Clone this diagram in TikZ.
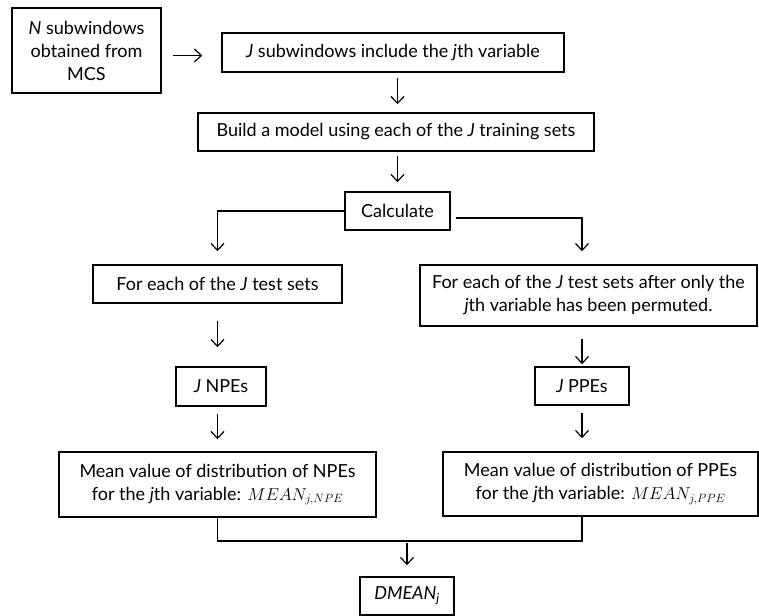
\documentclass[tikz,border=0pt]{standalone}
\usepackage{fontspec}
\setmainfont{Lato}
\usetikzlibrary{arrows.meta}
\tikzset{
  box/.style={draw, line width=1.5pt, inner sep=0pt, align=center},
  arr/.style={line width=1.2pt, -{Straight Barb[length=7pt,width=13pt,line width=1.2pt]}},
  link/.style={line width=1.3pt}
}
\begin{document}
\begin{tikzpicture}[x=1pt, y=-1pt, font=\fontsize{18}{23}\selectfont]
\useasboundingbox (0,0) rectangle (759,615);
% inizio
\node[box, minimum width=149pt, minimum height=85pt] (sub) at (86.5,50.5) {\textit{N} subwindows\\obtained from\\MCS};
\node[box, minimum width=342pt, minimum height=39pt] (incl) at (393,52.5) {\textit{J} subwindows include the \textit{j}th variable};
\node[box, minimum width=396pt, minimum height=38pt] (model) at (396,132) {Build a model using each of the \textit{J} training sets};
\node[box, minimum width=105pt, minimum height=38pt] (calc) at (397.5,211) {Calculate};
% due rami
\node[box, minimum width=249pt, minimum height=38pt] (testN) at (217.5,284) {For each of the \textit{J} test sets};
\node[box, minimum width=337pt, minimum height=61pt] (testP) at (588.5,295.5) {For each of the \textit{J} test sets after only the\\\textit{j}th variable has been permuted.};
\node[box, minimum width=90pt, minimum height=39pt] (npe) at (221,386.5) {\textit{J} NPEs};
\node[box, minimum width=94pt, minimum height=38pt] (ppe) at (582,386) {\textit{J} PPEs};
\node[box, minimum width=317pt, minimum height=65pt] (meanN) at (217.5,484.5) {Mean value of distribution of NPEs\\for the \textit{j}th variable: $MEAN_{j,NPE}$};
\node[box, minimum width=315pt, minimum height=64pt] (meanP) at (600.5,484) {Mean value of distribution of PPEs\\for the \textit{j}th variable: $MEAN_{j,PPE}$};
% fine
\node[box, minimum width=94pt, minimum height=38pt] (dmean) at (407,596) {\textit{DMEAN\textsubscript{j}}};
\coordinate (jn) at (407,541);
% frecce
\draw[arr, shorten <=11pt, shorten >=19pt] ([yshift=-5pt]sub.east) -- ([yshift=-5pt]sub.east -| incl.west);
\draw[arr, shorten <=5pt, shorten >=8pt] (incl.south -| calc) -- (model.north -| calc);
\draw[arr, shorten <=4pt, shorten >=9pt] (model.south -| calc) -- (calc.north);
\draw[arr, shorten >=13pt] (calc.west) -| (testN.north);
\draw[arr, shorten <=5pt, shorten >=13pt] ([yshift=-7pt]calc.east) -| (testP.north -| ppe);
\draw[arr, shorten <=17pt, shorten >=19pt] (testN.south) -- (npe.north -| testN);
\draw[arr, shorten <=12pt, shorten >=2pt] (testP.south -| ppe) -- (ppe.north);
\draw[arr, shorten <=7pt, shorten >=12pt] (npe.south -| meanN) -- (meanN.north);
\draw[arr, shorten <=7pt, shorten >=13pt] (ppe.south) -- (meanP.north -| ppe);
\draw[link] (meanN.south) |- (jn) -| (meanP.south -| ppe);
\draw[arr, shorten <=2pt, shorten >=11pt] (jn) -- (dmean.north);
\end{tikzpicture}
\end{document}
